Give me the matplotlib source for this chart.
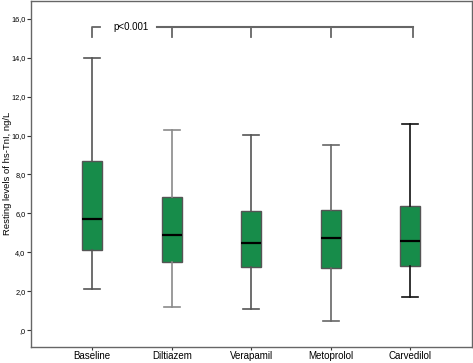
import matplotlib.pyplot as plt
import matplotlib.ticker as mticker

# Box statistics (ng/L)
groups = ['Baseline', 'Diltiazem', 'Verapamil', 'Metoprolol', 'Carvedilol']
whislo = [2.10, 1.21, 1.11, 0.45, 1.71]
q1 = [4.10, 3.52, 3.23, 3.21, 3.32]
med = [5.71, 4.91, 4.50, 4.73, 4.56]
q3 = [8.70, 6.86, 6.10, 6.20, 6.36]
whishi = [14.0, 10.3, 10.02, 9.52, 10.6]
whisker_colors = ['#555555', '#8a8a8a', '#555555', '#666666', '#111111']
p_text = 'p<0.001'

stats = []
for i, g in enumerate(groups):
    stats.append({'label': g, 'whislo': whislo[i], 'q1': q1[i], 'med': med[i],
                  'q3': q3[i], 'whishi': whishi[i], 'fliers': []})

fig = plt.figure(figsize=(4.73, 3.63), dpi=100)
ax = fig.add_axes([31 / 473, 1 - 346.5 / 363, 440.5 / 473, 346.5 / 363 - 0.002])

pos = list(range(len(groups)))
bp = ax.bxp(stats, positions=pos, widths=0.25, patch_artist=True, showfliers=False,
            boxprops=dict(facecolor='#178c4a', edgecolor='#555555', linewidth=1.0),
            medianprops=dict(color='black', linewidth=1.6),
            whiskerprops=dict(linewidth=1.2), capprops=dict(linewidth=1.2))
for i, c in enumerate(whisker_colors):
    for ln in bp['whiskers'][2 * i:2 * i + 2] + bp['caps'][2 * i:2 * i + 2]:
        ln.set_color(c)
    bp['caps'][2 * i].set_xdata([i - 0.1, i + 0.1])
    bp['caps'][2 * i + 1].set_xdata([i - 0.1, i + 0.1])

# significance bracket
br_y, br_low = 15.57, 15.05
lc = '#666666'
ax.plot([0, 0, 0.1], [br_low, br_y, br_y], color=lc, lw=1.3)
ax.text(0.27, br_y, p_text, fontsize=7, va='center', ha='left', family='Liberation Sans')
ax.plot([0.82, 4.03], [br_y, br_y], color=lc, lw=1.5)
for x in [1, 2, 3, 4.03]:
    ax.plot([x, x], [br_y, br_low], color=lc, lw=1.3)

ax.set_xlim(-0.77, 4.77)
ax.set_ylim(-0.84, 16.93)
ax.set_yticks([0, 2, 4, 6, 8, 10, 12, 14, 16])
ax.yaxis.set_major_formatter(mticker.FuncFormatter(
    lambda v, p: ',0' if v == 0 else f'{v:.1f}'.replace('.', ',')))
ax.tick_params(axis='y', labelsize=5.3, length=3, pad=1, colors='#333333')
ax.tick_params(axis='x', labelsize=7, length=2.5, pad=0.5, colors='#333333')
for lab in ax.get_xticklabels() + ax.get_yticklabels():
    lab.set_family('Liberation Sans')
    lab.set_color('black')
ax.set_ylabel('Resting levels of hs-TnI, ng/L', fontsize=6.8, family='Liberation Sans',
              va='center')
ax.yaxis.set_label_coords(-0.054, 0.5)
for s in ax.spines.values():
    s.set_color('#666666')
    s.set_linewidth(1.0)

fig.savefig('out.png', dpi=100)
